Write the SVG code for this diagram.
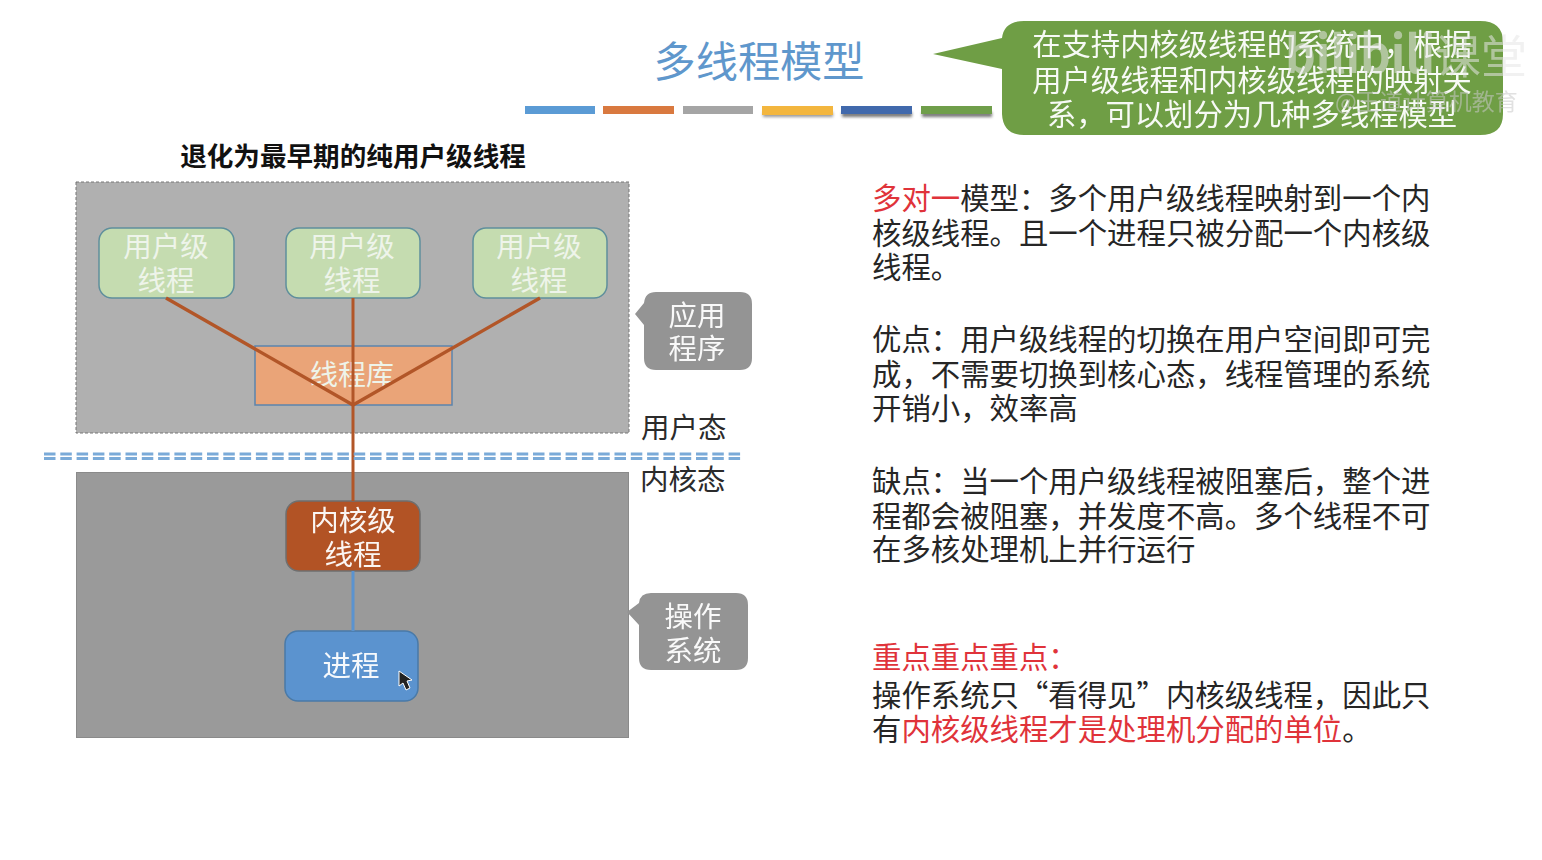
<svg xmlns="http://www.w3.org/2000/svg" width="1542" height="860" viewBox="0 0 1542 860">
<style>
text{font-family:"Noto Sans CJK SC","Noto Sans",sans-serif}
.w{fill:#fff;font-size:28px;text-anchor:middle;opacity:.95}
.c{font-size:29.3px}
.wl{fill:#eef4ea;font-size:28.5px;text-anchor:middle}
.k{fill:#2b2b2b;font-size:28.5px}
.b{fill:#262626;font-size:29.4px}
.r{fill:#e0333a}
.u rect{fill:#c5dcb0;stroke:#5f8f9c;stroke-width:1.5}
</style>
<defs>
<filter id="s" x="-10%" y="-60%" width="120%" height="300%"><feGaussianBlur stdDeviation="1.5"/></filter>
</defs>
<rect width="1542" height="860" fill="#fff"/>
<g id="title"><text x="759" y="77" font-size="42.2" fill="#5f97cc" text-anchor="middle">多线程模型</text></g>
<g id="bars">
<rect x="763" y="112" width="70" height="5" fill="#999" filter="url(#s)"/>
<rect x="842" y="112" width="70" height="5" fill="#777" filter="url(#s)"/>
<rect x="922" y="112" width="70" height="5" fill="#777" filter="url(#s)"/>
<rect x="525" y="106" width="70" height="8" fill="#5b9bd5"/>
<rect x="603" y="106" width="71" height="8" fill="#d9793f"/>
<rect x="683" y="106" width="70" height="8" fill="#a5a5a5"/>
<rect x="762" y="106" width="71" height="9" fill="#f3b63e"/>
<rect x="841" y="106" width="71" height="8" fill="#4169ac"/>
<rect x="921" y="106" width="71" height="8" fill="#6f9e4a"/>
</g>
<g id="callout-top">
<path d="M933 54 L1002 38 Q1004 21 1024 21 L1480 21 Q1503 21 1503 42 L1503 114 Q1503 135 1480 135 L1024 135 Q1003 135 1002 114 L1002 69 Z" fill="#6f9e45"/>
<text class="w c" x="1252" y="55">在支持内核级线程的系统中，根据</text>
<text class="w c" x="1252" y="91">用户级线程和内核级线程的映射关</text>
<text class="w c" x="1252" y="125">系，可以划分为几种多线程模型</text>
</g>
<g id="watermark" opacity=".55">
<text x="1285" y="73" font-size="52" font-weight="700" fill="#e6e6e6" textLength="150" lengthAdjust="spacingAndGlyphs">bilibili</text>
<text x="1435" y="73" font-size="46" fill="#e6e6e6">课堂</text>
<text x="1335" y="110" font-size="23" fill="#c9c9c9">@王道计算机教育</text>
</g>
<text id="subtitle" x="353" y="166" font-size="26.6" font-weight="700" fill="#111" text-anchor="middle">退化为最早期的纯用户级线程</text>
<g id="user-space"><rect x="76" y="182" width="553" height="251" fill="#b0b0b0" stroke="#777" stroke-width="1" stroke-dasharray="3 2"/></g>
<g id="kernel-space"><rect x="76.500" y="472.500" width="552" height="265" fill="#9a9a9a" stroke="#8a8a8a" stroke-width="1"/></g>
<g id="lib"><rect x="255" y="346" width="197" height="59" fill="#eaa478" stroke="#5b84ad" stroke-width="1.5"/>
<text class="wl" x="352" y="385" style="font-size:28px">线程库</text></g>
<g id="ut1" class="u"><rect x="99" y="228" width="135" height="70" rx="13"/>
<text class="wl" x="166" y="257">用户级</text><text class="wl" x="166" y="291">线程</text></g>
<g id="ut2" class="u"><rect x="286" y="228" width="134" height="70" rx="13"/>
<text class="wl" x="352" y="257">用户级</text><text class="wl" x="352" y="291">线程</text></g>
<g id="ut3" class="u"><rect x="473" y="228" width="134" height="70" rx="13"/>
<text class="wl" x="539" y="257">用户级</text><text class="wl" x="539" y="291">线程</text></g>
<g id="kt"><rect x="286" y="501" width="134" height="70" rx="13" fill="#b25325" stroke="#6f6f6f" stroke-width="1.5"/>
<text class="w" x="353" y="531" style="font-size:28.5px">内核级</text><text class="w" x="353" y="565" style="font-size:28.5px">线程</text></g>
<g id="proc"><rect x="285" y="631" width="133" height="70" rx="13" fill="#5b93cf" stroke="#4a7aa8" stroke-width="1.5"/>
<text class="w" x="351" y="676" style="font-size:28.5px">进程</text></g>
<g id="connectors" fill="none">
<g stroke="#b25628" stroke-width="3.4"><path d="M166 298 L353 405 L540 298"/><path d="M353 298 V501" stroke-width="3"/></g>
<path d="M353 571 V631" stroke="#5b93cf" stroke-width="3"/>
<g stroke="#7aaad8" stroke-width="2.8" stroke-dasharray="11.500 4.800"><path d="M44 454 H742"/><path d="M44 458.500 H742"/></g>
</g>
<g id="app-callout"><path d="M635 314 L644 303 Q645 292 656 292 L740 292 Q752 292 752 304 L752 358 Q752 370 740 370 L656 370 Q644 370 644 358 L644 325 Z" fill="#949494"/>
<text class="w" x="697" y="326" style="font-size:28.5px">应用</text><text class="w" x="697" y="359" style="font-size:28.5px">程序</text></g>
<g id="os-callout"><path d="M627 612 L639 603 Q640 593 651 593 L736 593 Q748 593 748 605 L748 658 Q748 670 736 670 L651 670 Q639 670 639 658 L639 625 Z" fill="#949494"/>
<text class="w" x="693" y="627" style="font-size:28.5px">操作</text><text class="w" x="693" y="661" style="font-size:28.5px">系统</text></g>
<text id="user-mode" class="k" x="641" y="438">用户态</text>
<text id="kernel-mode" class="k" x="640" y="490">内核态</text>
<g id="cursor"><path d="M399 671 L399 686 L403 683 L406 690 L410 688 L407 681 L412 680 Z" fill="#222" stroke="#fff" stroke-width="1"/></g>
<g id="notes">
<text class="b" x="872" y="209"><tspan class="r">多对一</tspan>模型：多个用户级线程映射到一个内</text>
<text class="b" x="872" y="244">核级线程。且一个进程只被分配一个内核级</text>
<text class="b" x="872" y="278">线程。</text>
<text class="b" x="872" y="350">优点：用户级线程的切换在用户空间即可完</text>
<text class="b" x="872" y="385">成，不需要切换到核心态，线程管理的系统</text>
<text class="b" x="872" y="419">开销小，效率高</text>
<text class="b" x="872" y="492">缺点：当一个用户级线程被阻塞后，整个进</text>
<text class="b" x="872" y="527">程都会被阻塞，并发度不高。多个线程不可</text>
<text class="b" x="872" y="560">在多核处理机上并行运行</text>
<text class="b" x="872" y="668" style="fill:#e0333a">重点重点重点：</text>
<text class="b" x="872" y="706">操作系统只“看得见”内核级线程，因此只</text>
<text class="b" x="872" y="740">有<tspan class="r">内核级线程才是处理机分配的单位</tspan>。</text>
</g>
</svg>
